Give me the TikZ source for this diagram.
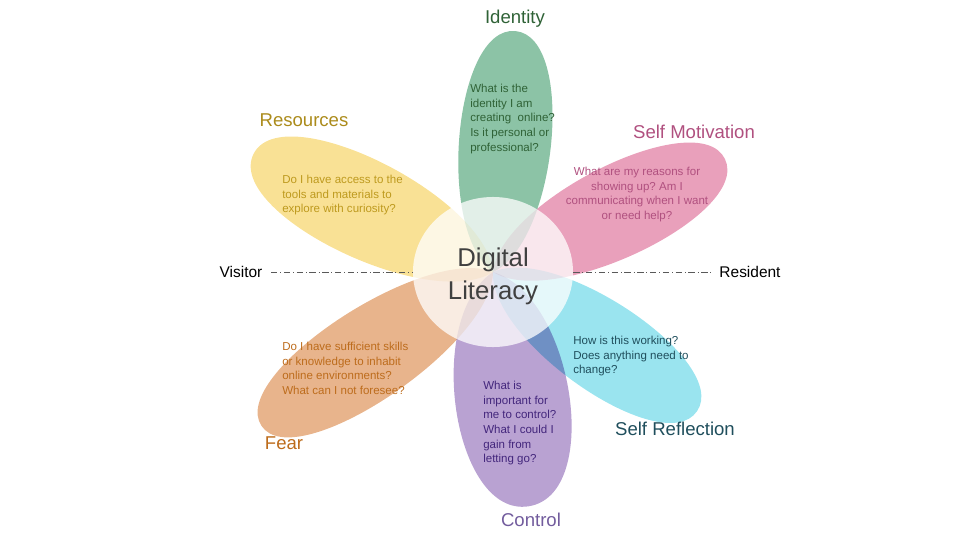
\documentclass[tikz,border=0pt]{standalone}
\usepackage{fontspec}
\setmainfont{Liberation Sans}
\usetikzlibrary{shapes.geometric,positioning}
\frenchspacing

\definecolor{idgreen}{HTML}{8CC3A6}
\definecolor{motpink}{HTML}{E9A0BB}
\definecolor{refcyan}{HTML}{9AE4EF}
\definecolor{ctlpurple}{HTML}{B9A2D2}
\definecolor{fearorange}{HTML}{E8B48C}
\definecolor{resyellow}{HTML}{F9E195}

\definecolor{idtext}{HTML}{2F6236}
\definecolor{restext}{HTML}{BE9A1E}
\definecolor{mottext}{HTML}{B0507F}
\definecolor{reftext}{HTML}{1F4E5C}
\definecolor{ctltext}{HTML}{43267C}
\definecolor{feartext}{HTML}{BD6C1C}

% petal: angle, length, width, colour
\newcommand{\flowerpetal}[4]{%
  \fill[#4, rotate=#1] (0,0) .. controls (0.15*#2, 0.667*#3) and (#2, 0.667*#3) .. (#2,0)
    .. controls (#2, -0.667*#3) and (0.15*#2, -0.667*#3) .. (0,0);}

\begin{document}
\begin{tikzpicture}[
      x=0.025cm, y=-0.025cm,
      question/.style={inner sep=0pt, anchor=north west, align=left, font=\fontsize{8.2}{10.4}\selectfont},
      label/.style={inner sep=0pt, font=\fontsize{13.2}{15}\selectfont},
      axis/.style={inner sep=0pt, font=\fontsize{11}{13}\selectfont},
      axisline/.style={draw=black!65, thin, dash pattern=on 4.5pt off 2pt on 0.6pt off 2pt},
    ]
    \useasboundingbox (0,0) rectangle (960,540);

    % petals
    \begin{scope}[shift={(493,272)}, blend mode=multiply]
      \flowerpetal{153.8}{267}{98}{resyellow}
      \flowerpetal{-146.4}{278}{92}{fearorange}
      \flowerpetal{84.7}{242}{92}{idgreen}
      \flowerpetal{-81.4}{237}{114}{ctlpurple}
      \flowerpetal{-34.3}{247}{90}{refcyan}
      \flowerpetal{26}{258}{92}{motpink}
    \end{scope}

    % centre
    \node[ellipse, fill=white, fill opacity=0.75, minimum width=4.0cm, minimum height=3.75cm, inner sep=0pt] (centre) at (493,272) {};
    \node[align=center, text=black!75, font=\fontsize{18.3}{23.5}\selectfont] (title) at (493,276) {Digital\\Literacy};

    % visitor / resident axis
    \node[axis] (visitor) at (241,272) {Visitor};
    \node[axis] (resident) at (750,272) {Resident};
    \draw[axisline] ([xshift=6pt]visitor.east) -- (centre.west);
    \draw[axisline] (centre.east) -- ([xshift=-6pt]resident.west);

    % labels
    \node[label, text=idtext] (lblidentity) at (515,19) {Identity};
    \node[label, text=restext!90!black] (lblresources) at (304,120) {Resources};
    \node[label, text=mottext] (lblmotivation) at (694,132) {Self Motivation};
    \node[label, text=reftext] (lblreflection) at (675,429) {Self Reflection};
    \node[label, text=ctltext!75!white] (lblcontrol) at (531,520) {Control};
    \node[label, text=feartext] (lblfear) at (284,443) {Fear};

    % questions
    \node[question, text=idtext] (qidentity) at (470,84)
      {What is the\\identity I am\\creating\ \ online?\\Is it personal or\\professional?};
    \node[question, text=restext] (qresources) at (282,175)
      {Do I have access to the\\tools and materials to\\explore with curiosity?};
    \node[question, anchor=north, align=center, text=mottext] (qmotivation) at (637,167)
      {What are my reasons for\\showing up? Am I\\communicating when I want\\or need help?};
    \node[question, text=reftext] (qreflection) at (573,336)
      {How is this working?\\Does anything need to\\change?};
    \node[question, text=ctltext] (qcontrol) at (483,381)
      {What is\\important for\\me to control?\\What I could I\\gain from\\letting go?};
    \node[question, text=feartext] (qfear) at (282,342)
      {Do I have sufficient skills\\or knowledge to inhabit\\online environments?\\What can I not foresee?};
  \end{tikzpicture}
\end{document}
